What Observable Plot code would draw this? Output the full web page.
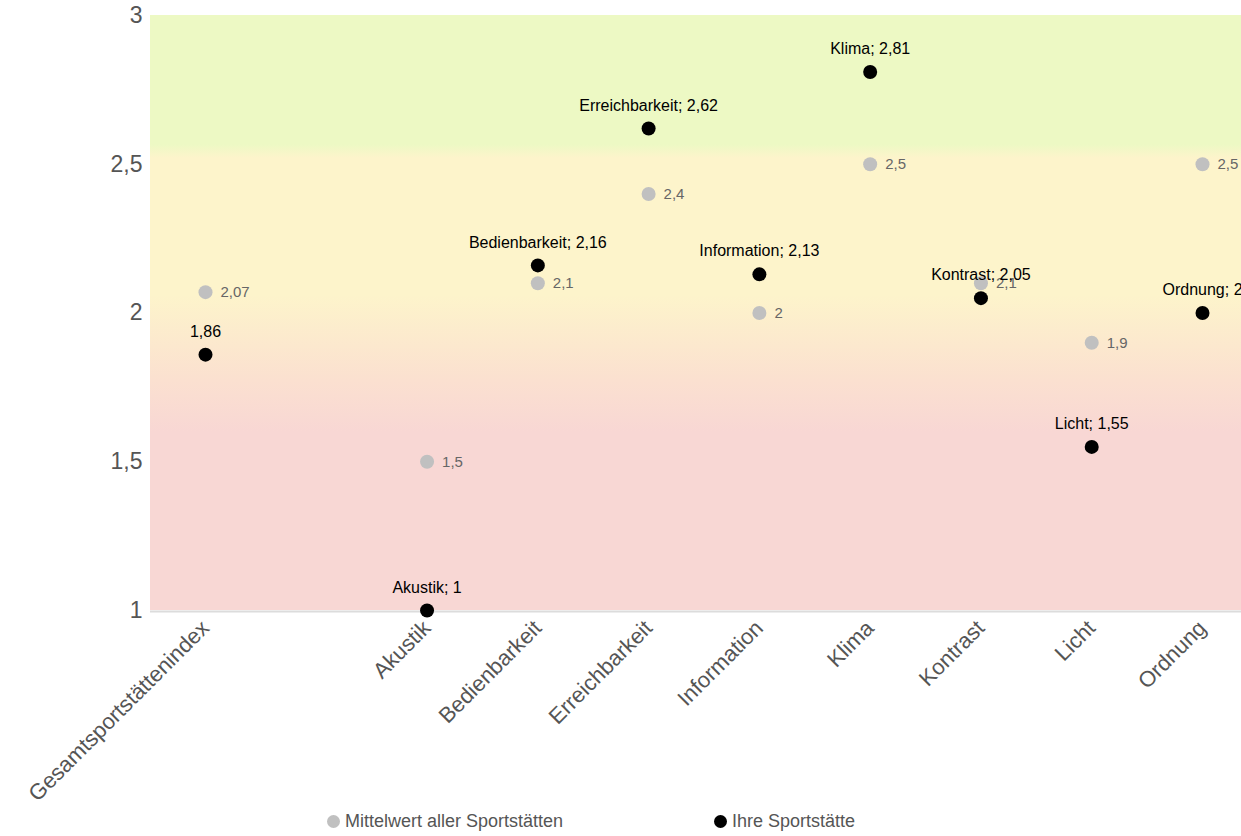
<!DOCTYPE html>
<html>
<head>
<meta charset="utf-8">
<script src="https://cdn.jsdelivr.net/npm/d3@7"></script>
<script src="https://cdn.jsdelivr.net/npm/@observablehq/plot@0.6"></script>
<style>
  html, body { margin: 0; padding: 0; background: #fff; overflow: hidden; }
  body { width: 1241px; height: 836px; position: relative; font-family: Arial, "Liberation Sans", sans-serif; }
  #chart { position: absolute; left: 0; top: 0; }
  .legend { position: absolute; top: 811px; font-size: 18px; color: #555; display: flex; align-items: center; white-space: nowrap; }
  .legend .dot { width: 13px; height: 13px; border-radius: 50%; display: inline-block; margin-right: 5px; }
</style>
</head>
<body>
<div id="chart"></div>
<div class="legend" style="left:327px"><span class="dot" style="background:#c0c0c0"></span><span>Mittelwert aller Sportstätten</span></div>
<div class="legend" style="left:714px"><span class="dot" style="background:#000"></span><span>Ihre Sportstätte</span></div>
<script>
// ---- data ----
const categories = ["Gesamtsportstättenindex", "", "Akustik", "Bedienbarkeit", "Erreichbarkeit", "Information", "Klima", "Kontrast", "Licht", "Ordnung"];
const dataCategories = ["Gesamtsportstättenindex", "Akustik", "Bedienbarkeit", "Erreichbarkeit", "Information", "Klima", "Kontrast", "Licht", "Ordnung"];
const meanValues = [2.07, 1.5, 2.1, 2.4, 2, 2.5, 2.1, 1.9, 2.5];
const ownValues = [1.86, 1, 2.16, 2.62, 2.13, 2.81, 2.05, 1.55, 2];
const yTicks = [1, 1.5, 2, 2.5, 3];

const fmt = v => String(v).replace(".", ",");
const meanData = dataCategories.map((c, i) => ({cat: c, v: meanValues[i], label: fmt(meanValues[i])}));
const ownData = dataCategories.map((c, i) => ({cat: c, v: ownValues[i], label: i === 0 ? fmt(ownValues[i]) : `${c}; ${fmt(ownValues[i])}`}));

// gradient band colours (style)
const gradStops = [
  [3, "#edf9c4"], [2.565, "#edf9c4"], [2.52, "#fdf4cb"], [2.06, "#fdf4cb"],
  [1.77, "#fbe0d0"], [1.6, "#f8d7d4"], [1, "#f8d7d4"]
];

function background(index, scales, values, dims) {
  const ns = "http://www.w3.org/2000/svg";
  const g = document.createElementNS(ns, "g");
  const y = scales.y;
  const y0 = y(3), y1 = y(1);
  const defs = document.createElementNS(ns, "defs");
  const lg = document.createElementNS(ns, "linearGradient");
  lg.setAttribute("id", "bggrad");
  lg.setAttribute("gradientUnits", "userSpaceOnUse");
  lg.setAttribute("x1", 0); lg.setAttribute("x2", 0);
  lg.setAttribute("y1", y0); lg.setAttribute("y2", y1);
  for (const [v, c] of gradStops) {
    const s = document.createElementNS(ns, "stop");
    s.setAttribute("offset", (y(v) - y0) / (y1 - y0));
    s.setAttribute("stop-color", c);
    lg.appendChild(s);
  }
  defs.appendChild(lg);
  g.appendChild(defs);
  const r = document.createElementNS(ns, "rect");
  r.setAttribute("x", dims.marginLeft);
  r.setAttribute("y", y0);
  r.setAttribute("width", dims.width - dims.marginLeft);
  r.setAttribute("height", y1 - y0);
  r.setAttribute("fill", "url(#bggrad)");
  g.appendChild(r);
  return g;
}

const chart = Plot.plot({
  width: 1241,
  height: 836,
  marginLeft: 150,
  marginRight: 0,
  marginTop: 15,
  marginBottom: 226,
  style: {fontFamily: "Arial, 'Liberation Sans', sans-serif", color: "#555", background: "transparent"},
  x: {type: "point", domain: categories, range: [205, 1202], padding: 0, round: false},
  y: {domain: [1, 3]},
  marks: [
    background,
    Plot.ruleY([1], {stroke: "#dcdcdc", strokeWidth: 2, dy: 1}),
    Plot.axisY({ticks: yTicks, tickFormat: fmt, tickSize: 0, tickPadding: 8, fontSize: 23, color: "#555", label: null}),
    Plot.axisX({tickRotate: -45, tickSize: 0, tickPadding: 14, fontSize: 22, color: "#555", label: null, tickFormat: d => d}),
    Plot.dot(meanData, {x: "cat", y: "v", r: 7, fill: "#c0c0c0", stroke: null}),
    Plot.text(meanData, {x: "cat", y: "v", text: "label", textAnchor: "start", dx: 15, fontSize: 15, fill: "#666"}),
    Plot.dot(ownData, {x: "cat", y: "v", r: 7, fill: "#000", stroke: null}),
    Plot.text(ownData, {x: "cat", y: "v", text: "label", textAnchor: "middle", dy: -23, fontSize: 16, fill: "#000"})
  ]
});
document.getElementById("chart").appendChild(chart);
</script>
</body>
</html>
